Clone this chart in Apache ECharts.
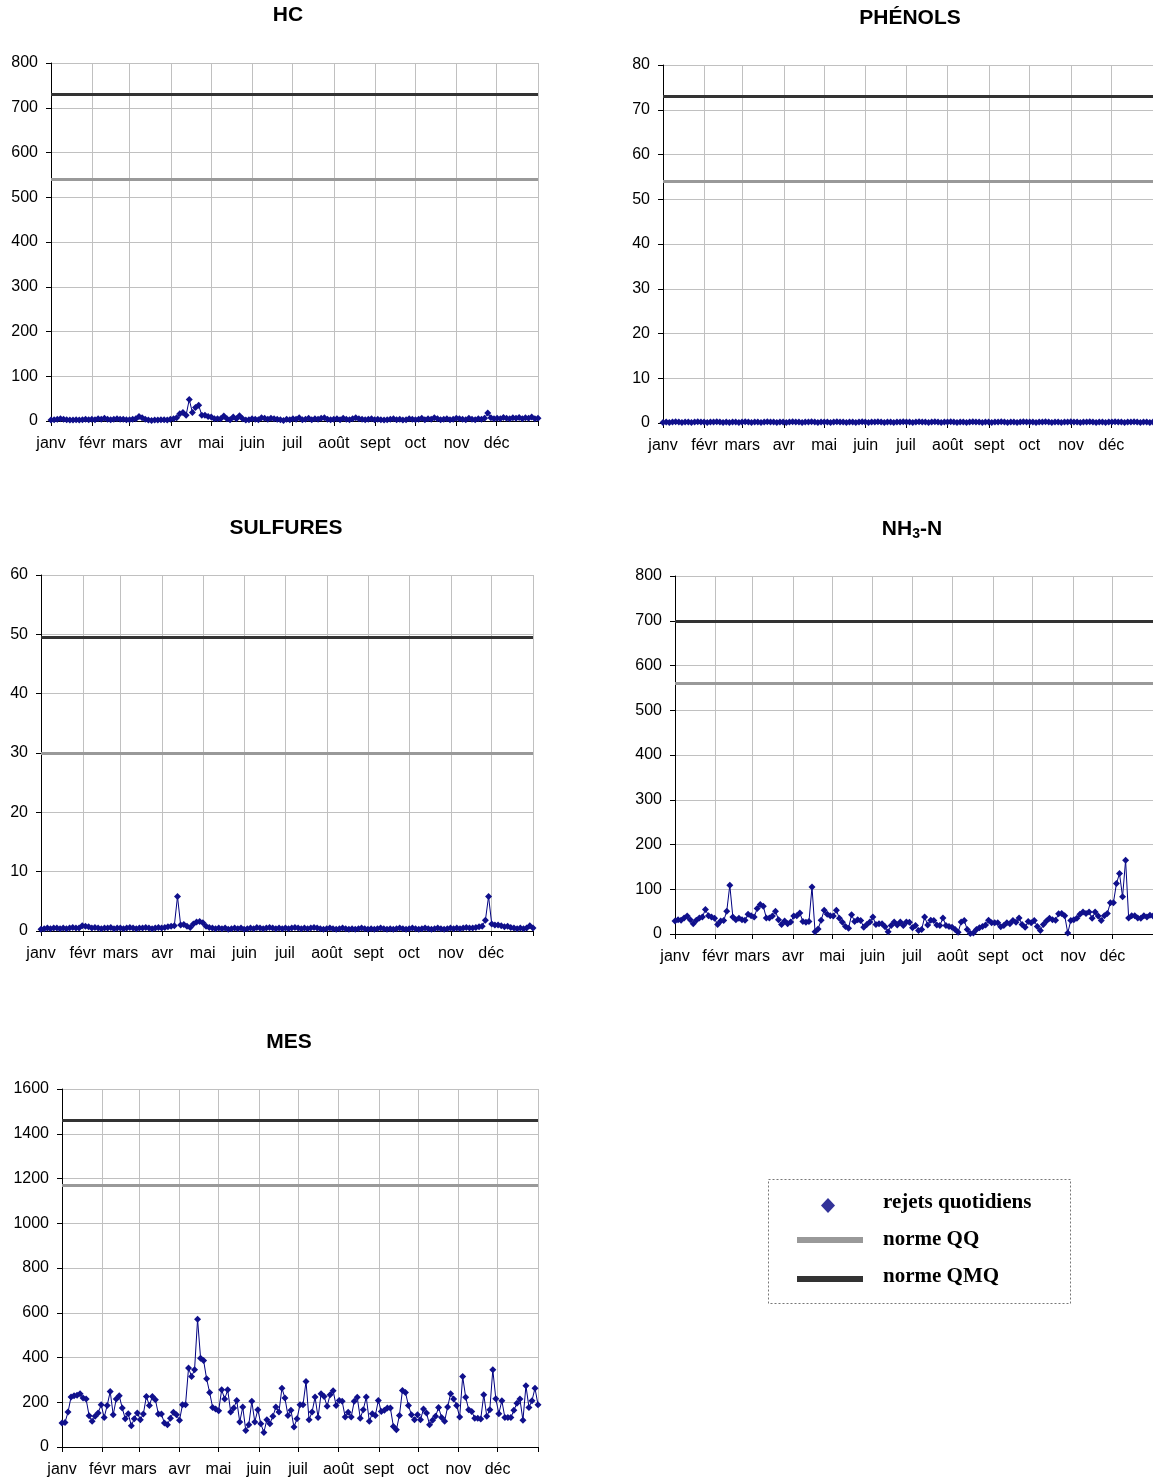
<!DOCTYPE html>
<html>
<head>
<meta charset="utf-8">
<script src="https://cdn.jsdelivr.net/npm/echarts@6/dist/echarts.min.js"></script>
<style>
html,body{margin:0;padding:0;background:#fff;overflow:hidden;}
#c{width:1153px;height:1479px;}
</style>
</head>
<body>
<div id="c"></div>
<script>
// ---------- DATA ----------
const months = ['janv','févr','mars','avr','mai','juin','juil','août','sept','oct','nov','déc'];
const monthStarts = [0,31,59,90,120,151,181,212,243,273,304,334,365];

const hcValues = [
 2,3,4,5,4,3,2,2,3,2,3,4,3,
 4,3,5,4,6,4,3,4,5,4,4,3,
 3,4,5,10,7,4,2,1,2,2,3,3,2,
 4,5,7,16,19,13,48,19,30,35,13,13,10,
 9,5,5,5,11,5,3,9,5,12,5,2,3,
 5,4,3,7,6,4,6,5,4,3,1,4,3,
 5,4,7,3,4,6,3,5,4,6,7,4,3,
 4,5,3,6,4,3,5,7,5,4,3,4,5,3,
 4,3,2,3,4,5,3,4,2,3,5,4,3,
 4,6,3,5,4,7,5,3,4,5,3,4,6,
 5,4,3,6,4,3,5,4,6,18,7,5,6,
 5,8,6,5,7,6,8,5,7,6,9,5,6
];
const hcQQ = 540, hcQMQ = 730;

const phenolsValues = [
 0.1,0.2,0.1,0.2,0.3,0.2,0.1,0.2,0.2,0.1,0.2,0.3,0.2,
 0.2,0.1,0.2,0.2,0.3,0.2,0.1,0.2,0.1,0.2,0.2,0.1,
 0.2,0.3,0.2,0.1,0.2,0.2,0.1,0.2,0.3,0.2,0.2,0.1,0.2,
 0.2,0.1,0.2,0.3,0.2,0.2,0.1,0.2,0.2,0.3,0.2,0.1,0.2,
 0.2,0.2,0.1,0.2,0.3,0.2,0.2,0.1,0.2,0.2,0.1,0.2,0.3,
 0.2,0.1,0.2,0.2,0.3,0.2,0.1,0.2,0.2,0.1,0.2,0.2,0.3,
 0.2,0.2,0.1,0.2,0.3,0.2,0.2,0.1,0.2,0.3,0.2,0.1,0.2,
 0.2,0.3,0.2,0.1,0.2,0.2,0.1,0.2,0.3,0.2,0.2,0.1,0.2,0.2,
 0.1,0.2,0.2,0.3,0.2,0.1,0.2,0.2,0.1,0.2,0.3,0.2,0.2,
 0.2,0.1,0.2,0.2,0.3,0.2,0.1,0.2,0.2,0.1,0.2,0.2,0.3,
 0.2,0.2,0.1,0.2,0.2,0.3,0.2,0.1,0.2,0.2,0.1,0.2,0.2,
 0.3,0.2,0.2,0.1,0.2,0.2,0.3,0.2,0.1,0.2,0.2,0.1,0.2
];
const phenolsQQ = 54, phenolsQMQ = 73;

const sulfuresValues = [
 0.3,0.4,0.5,0.4,0.5,0.5,0.4,0.5,0.4,0.5,0.6,0.5,0.5,
 0.9,0.8,0.7,0.5,0.6,0.5,0.4,0.5,0.5,0.6,0.4,0.5,
 0.5,0.4,0.5,0.6,0.5,0.4,0.5,0.5,0.6,0.5,0.4,0.5,0.6,
 0.5,0.6,0.7,0.8,0.9,5.8,1.0,1.1,0.8,0.6,1.2,1.5,1.6,
 1.4,0.8,0.6,0.5,0.4,0.5,0.4,0.5,0.3,0.4,0.5,0.4,0.5,
 0.3,0.4,0.5,0.4,0.6,0.5,0.4,0.5,0.6,0.5,0.4,0.5,0.4,
 0.5,0.4,0.5,0.6,0.5,0.4,0.5,0.4,0.5,0.6,0.5,0.4,0.3,
 0.4,0.5,0.4,0.3,0.4,0.5,0.4,0.3,0.4,0.3,0.4,0.5,0.4,0.3,
 0.4,0.3,0.4,0.5,0.4,0.3,0.4,0.3,0.4,0.5,0.4,0.3,0.4,
 0.5,0.4,0.3,0.4,0.5,0.4,0.3,0.4,0.5,0.4,0.3,0.4,0.5,
 0.4,0.5,0.4,0.5,0.6,0.5,0.5,0.6,0.7,0.8,1.8,5.8,1.2,
 1.0,1.0,0.9,0.7,0.8,0.6,0.5,0.4,0.5,0.4,0.5,0.9,0.5
];
const sulfuresQQ = 30, sulfuresQMQ = 49.5;

const nh3Values = [
 29,32,31,36,40,32,23,31,36,38,
 55,41,38,35,21,29,30,51,109,38,
 32,35,32,31,44,41,38,57,66,62,
 36,36,40,51,32,21,29,23,27,40,
 41,47,28,26,28,105,5,11,31,53,
 44,41,40,53,35,26,17,13,43,28,
 32,30,15,21,27,38,21,23,23,16,
 5,19,27,20,27,19,
 27,26,14,19,8,10,38,20,31,30,
 20,19,36,19,17,15,10,4,27,30,
 10,1,2,10,14,17,20,31,25,25,
 25,16,19,25,23,30,26,36,21,15,
 28,25,30,17,8,21,29,35,32,31,
 45,46,41,2,30,32,35,44,49,46,
 49,35,49,40,30,41,46,70,70,113,
 135,83,165,36,41,41,36,35,41,
 38,42,40
];
const nh3QQ = 560, nh3QMQ = 700;

const mesValues = [
 107,110,156,223,229,231,238,219,214,140,
 115,137,152,189,132,186,248,144,214,229,
 174,126,149,95,126,152,122,147,226,186,
 226,211,147,147,107,100,129,155,144,119,
 189,189,353,315,345,571,397,387,305,244,
 177,170,162,256,214,256,156,174,208,112,
 179,74,100,204,112,167,104,65,122,104,
 137,179,156,263,219,141,164,89,
 126,189,189,293,122,156,223,132,238,226,
 182,234,251,185,208,204,134,155,134,204,
 222,129,167,223,115,149,141,208,159,164,
 174,174,92,77,141,253,244,185,144,122,
 144,122,170,152,100,119,137,177,132,115,
 179,238,214,186,134,315,222,167,159,129,
 129,125,234,137,167,345,216,149,207,132,
 132,132,164,196,214,119,274,177,207,263,
 189
];
const mesQQ = 1170, mesQMQ = 1460;

const legendLabels = ['rejets quotidiens','norme QQ','norme QMQ'];

// ---------- LAYOUT ----------
const FONT = "'Liberation Sans', Arial, sans-serif";
const panels = [
  {title:'HC', values:hcValues, qq:hcQQ, qmq:hcQMQ, max:800, interval:100,
   box:{left:51, top:63, width:487, height:358}, tx:288, ty:15},
  {title:'PHÉNOLS', values:phenolsValues, qq:phenolsQQ, qmq:phenolsQMQ, max:80, interval:10,
   box:{left:663, top:65, width:497, height:358}, tx:910, ty:18},
  {title:'SULFURES', values:sulfuresValues, qq:sulfuresQQ, qmq:sulfuresQMQ, max:60, interval:10,
   box:{left:41, top:575, width:492, height:356}, tx:286, ty:528},
  {title:'NH3-N', values:nh3Values, qq:nh3QQ, qmq:nh3QMQ, max:800, interval:100,
   box:{left:675, top:576, width:487, height:358}, tx:912, ty:529, rich:true},
  {title:'MES', values:mesValues, qq:mesQQ, qmq:mesQMQ, max:1600, interval:200,
   box:{left:62, top:1089, width:476, height:358}, tx:289, ty:1042}
];

const grid = [], xAxis = [], yAxis = [], series = [], graphic = [];
panels.forEach((p, i) => {
  grid.push({left:p.box.left, top:p.box.top, width:p.box.width, height:p.box.height, containLabel:false});
  xAxis.push({
    type:'value', gridIndex:i, min:0, max:365,
    axisLine:{show:true, onZero:false, lineStyle:{color:'#000', width:1}},
    axisTick:{show:true, customValues:monthStarts, length:5, lineStyle:{color:'#000'}},
    axisLabel:{customValues:monthStarts.slice(0,12), formatter:v => months[monthStarts.indexOf(v)],
      fontSize:16, color:'#000', fontFamily:FONT, margin:15},
    splitLine:{show:true, lineStyle:{color:'#c0c0c0', width:1}}
  });
  xAxis.push({
    type:'category', gridIndex:i, boundaryGap:false, show:false,
    data:p.values.map((_, k) => String(k + 1))
  });
  yAxis.push({
    type:'value', gridIndex:i, min:0, max:p.max, interval:p.interval,
    axisLine:{show:true, lineStyle:{color:'#000', width:1}},
    axisTick:{show:true, length:5, lineStyle:{color:'#000'}},
    axisLabel:{fontSize:16, color:'#000', fontFamily:FONT, margin:13, formatter:v => String(v)},
    splitLine:{show:true, lineStyle:{color:'#c0c0c0', width:1}}
  });
  series.push({
    type:'line', xAxisIndex:2*i+1, yAxisIndex:i, data:p.values,
    symbol:'diamond', symbolSize:7, showSymbol:true, showAllSymbol:true,
    lineStyle:{color:'#000080', width:1},
    itemStyle:{color:'#10108c'},
    animation:false, silent:true,
    markLine:{
      silent:true, symbol:['none','none'], label:{show:false}, animation:false,
      data:[
        {yAxis:p.qq, lineStyle:{color:'#999999', width:3, type:'solid'}},
        {yAxis:p.qmq, lineStyle:{color:'#333333', width:3, type:'solid'}}
      ]
    }
  });
  if (p.rich) {
    graphic.push({type:'text', x:p.tx, y:p.ty, style:{
      text:'{a|NH}{s|3}{a|-N}', align:'center', verticalAlign:'middle',
      rich:{
        a:{fontSize:21, fontWeight:'bold', fontFamily:FONT, fill:'#000', lineHeight:24},
        s:{fontSize:14, fontWeight:'bold', fontFamily:FONT, fill:'#000', lineHeight:14, verticalAlign:'bottom'}
      }
    }});
  } else {
    graphic.push({type:'text', x:p.tx, y:p.ty, style:{
      text:p.title, align:'center', verticalAlign:'middle',
      font:"bold 21px " + FONT, fill:'#000'
    }});
  }
});

// legend box
const SERIF = "'Liberation Serif', 'Times New Roman', serif";
graphic.push({type:'rect', shape:{x:768.5, y:1179.5, width:302, height:124},
  style:{fill:'#fff', stroke:'#777', lineWidth:1, lineDash:[2,2]}});
graphic.push({type:'polygon', shape:{points:[[828,1198],[835,1205.5],[828,1213],[821,1205.5]]},
  style:{fill:'#333399'}});
graphic.push({type:'rect', shape:{x:797, y:1237, width:66, height:6}, style:{fill:'#999999'}});
graphic.push({type:'rect', shape:{x:797, y:1276, width:66, height:6}, style:{fill:'#333333'}});
[1203, 1240, 1277].forEach((yy, k) => {
  graphic.push({type:'text', x:883, y:yy, style:{text:legendLabels[k], align:'left', verticalAlign:'middle',
    font:"bold 21px " + SERIF, fill:'#000'}});
});

const chart = echarts.init(document.getElementById('c'), null, {renderer:'canvas'});
chart.setOption({animation:false, backgroundColor:'#fff', grid, xAxis, yAxis, series, graphic});
</script>
</body>
</html>
